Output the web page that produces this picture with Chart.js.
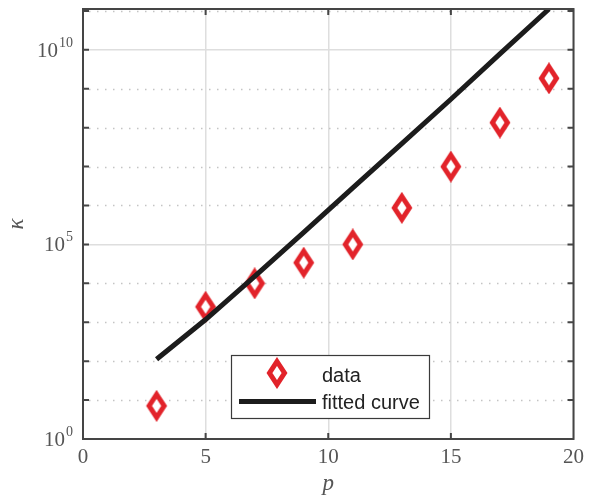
<!DOCTYPE html>
<html>
<head>
<meta charset="utf-8">
<script src="https://cdn.jsdelivr.net/npm/chart.js@4.4.0/dist/chart.umd.min.js"></script>
<style>
  html, body { margin: 0; padding: 0; background: #fff; }
  #wrap { width: 590px; height: 504px; }
</style>
</head>
<body>
<div id="wrap"><canvas id="kappaChart" width="590" height="504"></canvas></div>
<script>
// condition number kappa against polynomial degree p
const pValues  = [3, 5, 7, 9, 11, 13, 15, 17, 19];
const kappaData = [7.1, 2500, 1.0e4, 3.4e4, 1.0e5, 8.7e5, 1.0e7, 1.35e8, 1.86e9];
const kappaFit  = [112, 1175, 1.51e4, 2.04e5, 2.82e6, 3.89e7, 5.37e8, 7.9e9, 1.12e11];
const xTicks = [0, 5, 10, 15, 20];
const yDecades = [0, 1, 2, 3, 4, 5, 6, 7, 8, 9, 10, 11];
const yLabelled = [0, 5, 10];
const yMax = 1.12e11;

const RED = '#e2232a';
const INK = '#1c1c1c';
const AXIS = '#454545';
const LABEL = '#555555';
const SERIF = '"Liberation Serif", "DejaVu Serif", serif';
const SANS = '"Liberation Sans", Arial, sans-serif';

// tall diamond marker
function makeDiamond() {
  const c = document.createElement('canvas');
  c.width = 24; c.height = 32;
  const g = c.getContext('2d');
  g.beginPath();
  g.moveTo(12, 4.5); g.lineTo(19.5, 16); g.lineTo(12, 27.5); g.lineTo(4.5, 16);
  g.closePath();
  g.fillStyle = '#fff';
  g.fill();
  g.lineWidth = 5;
  g.strokeStyle = RED;
  g.stroke();
  return c;
}
const diamond = makeDiamond();

const decoration = {
  id: 'decoration',
  beforeDatasetsDraw(chart) {
    const { ctx, chartArea: a, scales: { y } } = chart;
    ctx.save();
    ctx.strokeStyle = '#c4c4c4';
    ctx.lineWidth = 1.5;
    ctx.setLineDash([1.5, 6.5]);
    yDecades.filter(e => !yLabelled.includes(e)).forEach(e => {
      const py = Math.round(y.getPixelForValue(Math.pow(10, e))) + 0.5;
      ctx.beginPath();
      ctx.moveTo(a.left + 6, py);
      ctx.lineTo(a.right, py);
      ctx.stroke();
    });
    ctx.restore();
  },
  afterDatasetsDraw(chart) {
    const { ctx, chartArea: a, scales: { x, y } } = chart;
    ctx.save();

    // axes box with inward ticks
    ctx.strokeStyle = AXIS;
    ctx.lineWidth = 2;
    ctx.strokeRect(a.left, a.top, a.right - a.left, a.bottom - a.top);
    ctx.beginPath();
    yDecades.forEach(e => {
      const py = y.getPixelForValue(Math.pow(10, e));
      ctx.moveTo(a.left, py); ctx.lineTo(a.left + 6, py);
      ctx.moveTo(a.right, py); ctx.lineTo(a.right - 6, py);
    });
    xTicks.slice(1, -1).forEach(v => {
      const px = x.getPixelForValue(v);
      ctx.moveTo(px, a.bottom); ctx.lineTo(px, a.bottom - 6);
      ctx.moveTo(px, a.top); ctx.lineTo(px, a.top + 6);
    });
    ctx.stroke();

    // 10^n labels
    ctx.fillStyle = LABEL;
    ctx.textBaseline = 'alphabetic';
    yLabelled.forEach(e => {
      const py = y.getPixelForValue(Math.pow(10, e));
      const sup = String(e);
      ctx.font = '14px ' + SERIF;
      const sw = ctx.measureText(sup).width;
      ctx.textAlign = 'right';
      ctx.fillText(sup, 73, py - 3);
      ctx.font = '21px ' + SERIF;
      ctx.fillText('10', 73 - sw - 1, py + 7);
    });

    // axis titles
    ctx.font = 'italic 23px ' + SERIF;
    ctx.textAlign = 'center';
    ctx.fillText('p', (a.left + a.right) / 2, 490);
    ctx.translate(23, (a.top + a.bottom) / 2);
    ctx.rotate(-Math.PI / 2);
    ctx.fillText('\u03BA', 0, 0);
    ctx.restore();

    // legend
    ctx.save();
    const lx = 231.5, ly = 355.5, lw = 198, lh = 63;
    ctx.fillStyle = '#fff';
    ctx.fillRect(lx, ly, lw, lh);
    ctx.strokeStyle = '#3a3a3a';
    ctx.lineWidth = 1.2;
    ctx.strokeRect(lx, ly, lw, lh);
    const ds = chart.data.datasets;
    ctx.drawImage(diamond, 277 - 12, 373 - 16);
    ctx.strokeStyle = ds[1].borderColor;
    ctx.lineWidth = ds[1].borderWidth;
    ctx.beginPath();
    ctx.moveTo(239, 401.5); ctx.lineTo(316, 401.5);
    ctx.stroke();
    ctx.fillStyle = '#222';
    ctx.font = '20px ' + SANS;
    ctx.textAlign = 'left';
    ctx.fillText(ds[0].label, 322, 381.5);
    ctx.fillText(ds[1].label, 322, 409);
    ctx.restore();
  }
};

new Chart(document.getElementById('kappaChart').getContext('2d'), {
  type: 'line',
  data: {
    datasets: [
      {
        label: 'data',
        data: pValues.map((p, i) => ({ x: p, y: kappaData[i] })),
        showLine: false,
        pointStyle: diamond,
        borderColor: RED,
        backgroundColor: '#fff',
        order: 1
      },
      {
        label: 'fitted curve',
        data: pValues.map((p, i) => ({ x: p, y: kappaFit[i] })),
        borderColor: INK,
        borderWidth: 5,
        pointRadius: 0,
        tension: 0,
        clip: 0,
        order: 0
      }
    ]
  },
  options: {
    responsive: false,
    animation: false,
    events: [],
    layout: { padding: { top: 9, right: 12, left: 0, bottom: 0 } },
    plugins: { legend: { display: false }, tooltip: { enabled: false } },
    scales: {
      x: {
        type: 'linear',
        min: 0, max: 20,
        afterBuildTicks: s => { s.ticks = xTicks.map(v => ({ value: v })); },
        afterFit: s => { s.height = 65; },
        ticks: { color: LABEL, font: { family: SERIF, size: 21 }, padding: 6, maxRotation: 0 },
        grid: { color: '#dedede', lineWidth: 1.5, drawTicks: false },
        border: { display: false }
      },
      y: {
        type: 'logarithmic',
        min: 1, max: yMax,
        afterBuildTicks: s => { s.ticks = yDecades.map(e => ({ value: Math.pow(10, e) })); },
        afterFit: s => { s.width = 83; },
        ticks: { display: false },
        grid: {
          drawTicks: false,
          lineWidth: 1.5,
          color: c => (c.tick && yLabelled.includes(Math.round(Math.log10(c.tick.value)))) ? '#dedede' : 'rgba(0,0,0,0)'
        },
        border: { display: false }
      }
    }
  },
  plugins: [decoration]
});
</script>
</body>
</html>
